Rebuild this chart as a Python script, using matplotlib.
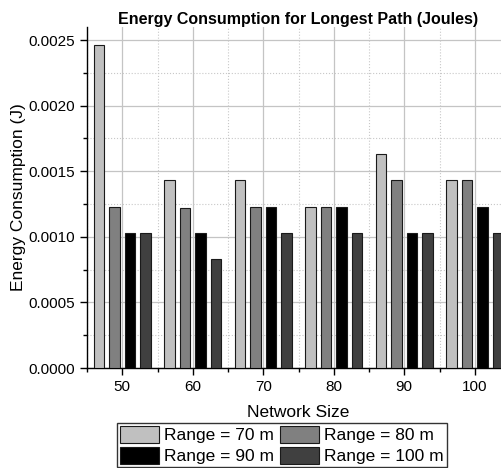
import matplotlib
matplotlib.use("Agg")
import matplotlib.pyplot as plt
import numpy as np
from matplotlib.ticker import MultipleLocator

plt.rcParams['font.family'] = ['Liberation Sans', 'DejaVu Sans']

sizes = [50, 60, 70, 80, 90, 100]
labels = ['Range = 70 m', 'Range = 80 m', 'Range = 90 m', 'Range = 100 m']
r70 = [0.00246, 0.00143, 0.00143, 0.00123, 0.00163, 0.00143]
r80 = [0.00123, 0.00122, 0.00123, 0.00123, 0.00143, 0.00143]
r90 = [0.00103, 0.00103, 0.00123, 0.00123, 0.00103, 0.00123]
r100 = [0.00103, 0.00083, 0.00103, 0.00103, 0.00103, 0.00103]
colors = ['#c0c0c0', '#808080', '#000000', '#404040']

fig = plt.figure(figsize=(5.01, 4.68), dpi=100)
ax = fig.add_axes([87/501, 100/468, 423/501, 341/468])

x = np.array(sizes, dtype=float)
step = 2.18
width = 1.5
bars = []
for i, (vals, lab, c) in enumerate(zip([r70, r80, r90, r100], labels, colors)):
    b = ax.bar(x + (i - 1.5) * step, vals, width=width, color=c, edgecolor='#1a1a1a',
               linewidth=0.8, label=lab, zorder=3)
    bars.append(b)

ax.set_xlim(45, 105)
ax.set_ylim(0, 0.0026)
ax.xaxis.set_major_locator(MultipleLocator(10))
ax.xaxis.set_minor_locator(MultipleLocator(5))
ax.yaxis.set_major_locator(MultipleLocator(0.0005))
ax.yaxis.set_minor_locator(MultipleLocator(0.00025))
ax.yaxis.set_major_formatter(matplotlib.ticker.FormatStrFormatter('%.4f'))

ax.grid(which='major', color='#c4c4c4', linewidth=0.9, zorder=0)
ax.grid(which='minor', color='#c8c8c8', linewidth=0.8, linestyle=':', zorder=0)
ax.set_axisbelow(True)

for s in ['top', 'right']:
    ax.spines[s].set_visible(False)
for s in ['left', 'bottom']:
    ax.spines[s].set_linewidth(1.0)

ax.tick_params(which='major', direction='out', length=5, width=1, labelsize=11)
ax.tick_params(which='minor', direction='out', length=3, width=1)

ax.set_title('Energy Consumption for Longest Path (Joules)', fontsize=11.5, fontweight='bold', pad=1.5)
ax.set_xlabel('Network Size', fontsize=12.5, labelpad=8)
ax.set_ylabel('Energy Consumption (J)', fontsize=12.5, labelpad=1.5)

# row-wise order: 70, 80 / 90, 100
order = [0, 2, 1, 3]
leg = fig.legend([bars[i] for i in order], [labels[i] for i in order],
                 loc='upper center', bbox_to_anchor=(282/501, 1 - 423/468), ncol=2,
                 fontsize=12.5, frameon=True, fancybox=False, edgecolor='black',
                 handlelength=2.25, handleheight=1.15, handletextpad=0.3,
                 columnspacing=0.35, labelspacing=0.2, borderpad=0.15, borderaxespad=0)
leg.get_frame().set_linewidth(1.0)

fig.savefig('out.png', dpi=100)
